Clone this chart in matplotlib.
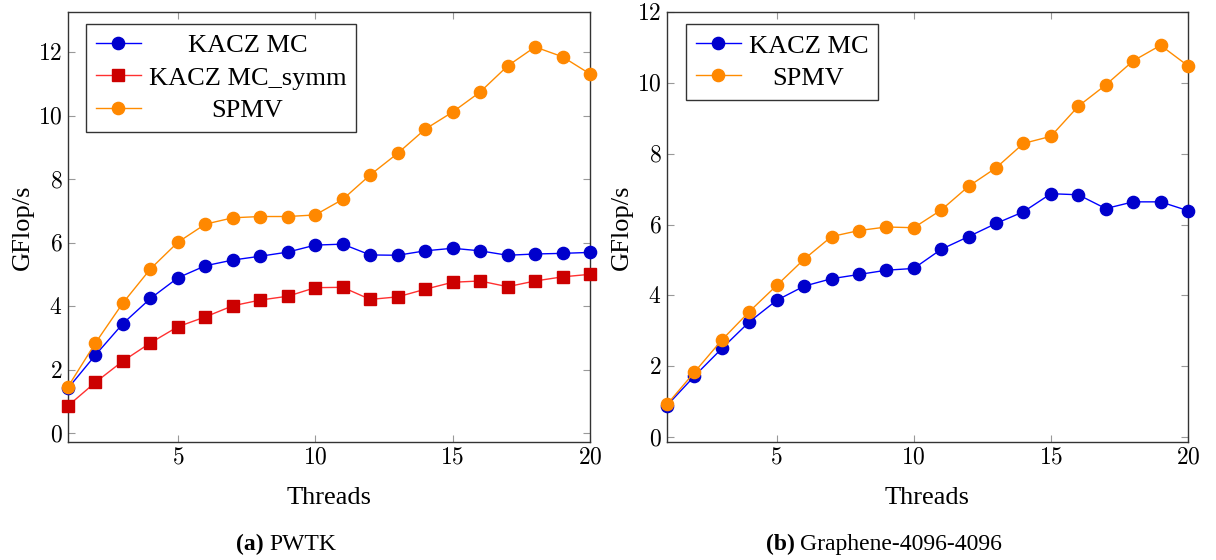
import matplotlib
matplotlib.use("Agg")
import matplotlib.pyplot as plt
from matplotlib import offsetbox

threads = list(range(1, 21))

pwtk_kacz = [1.41, 2.46, 3.45, 4.24, 4.89, 5.27, 5.45, 5.57, 5.70, 5.92,
             5.95, 5.61, 5.60, 5.74, 5.82, 5.74, 5.60, 5.64, 5.66, 5.69]
pwtk_kacz_symm = [0.86, 1.60, 2.27, 2.84, 3.35, 3.66, 4.01, 4.19, 4.31, 4.58,
                  4.59, 4.21, 4.29, 4.53, 4.75, 4.79, 4.61, 4.79, 4.92, 5.00]
pwtk_spmv = [1.46, 2.84, 4.10, 5.17, 6.01, 6.58, 6.78, 6.82, 6.82, 6.87,
             7.36, 8.13, 8.81, 9.57, 10.11, 10.74, 11.56, 12.16, 11.85, 11.31]

gr_kacz = [0.89, 1.72, 2.50, 3.25, 3.86, 4.26, 4.47, 4.59, 4.71, 4.76,
           5.30, 5.66, 6.03, 6.36, 6.87, 6.84, 6.45, 6.64, 6.64, 6.39]
gr_spmv = [0.92, 1.83, 2.74, 3.54, 4.28, 5.02, 5.66, 5.83, 5.93, 5.91,
           6.41, 7.08, 7.60, 8.29, 8.49, 9.34, 9.94, 10.62, 11.06, 10.48]

xticks = [5, 10, 15, 20]
yticks = [0, 2, 4, 6, 8, 10, 12]

plt.rcParams['mathtext.fontset'] = 'cm'
plt.rcParams['font.family'] = ['Liberation Serif', 'DejaVu Serif']

W, H = 1216, 560
fig = plt.figure(figsize=(W / 100, H / 100), dpi=100)
ax1 = fig.add_axes([68 / W, 1 - 442 / H, (590 - 68) / W, (442 - 12) / H])
ax2 = fig.add_axes([667 / W, 1 - 442 / H, (1188 - 667) / W, (442 - 12) / H])

BLUE_L, BLUE_M = '#0000FF', '#0000CC'
RED_L, RED_M = '#FF3030', '#CC0000'
OR_L, OR_M = '#FF8C00', '#FF8800'


def series(ax, y, lc, mc, marker, ms, label):
    ax.plot(threads, y, color=lc, lw=1.0, marker=marker, ms=ms,
            markerfacecolor=mc, markeredgecolor=mc, label=label,
            clip_on=False, zorder=3)


series(ax1, pwtk_kacz, BLUE_L, BLUE_M, 'o', 8.8, 'KACZ MC')
series(ax1, pwtk_kacz_symm, RED_L, RED_M, 's', 8.0, 'KACZ MC_symm')
series(ax1, pwtk_spmv, OR_L, OR_M, 'o', 8.8, 'SPMV')
series(ax2, gr_kacz, BLUE_L, BLUE_M, 'o', 8.8, 'KACZ MC')
series(ax2, gr_spmv, OR_L, OR_M, 'o', 8.8, 'SPMV')

ax1.set_ylim(-0.28, 13.26)
ax2.set_ylim(-0.14, 12.0)

for ax in (ax1, ax2):
    ax.set_xlim(1, 20)
    ax.set_xticks(xticks)
    ax.set_xticklabels([r'$%d$' % t for t in xticks])
    ax.set_yticks(yticks)
    ax.set_yticklabels([r'$%d$' % t for t in yticks])
    ax.tick_params(direction='in', top=True, right=True, length=5,
                   width=0.8, color='#999999', labelsize=17, pad=4)
    for s in ax.spines.values():
        s.set_color('#333333')
        s.set_linewidth(1.0)
    ax.set_xlabel('Threads', fontsize=19, labelpad=13)
    ax.set_ylabel('GFlop/s', fontsize=19, labelpad=3)


def make_legend(ax, loc_xy):
    leg = ax.legend(loc='upper left', bbox_to_anchor=loc_xy, fontsize=19,
                    frameon=True, fancybox=False, edgecolor='black',
                    handlelength=1.7, handletextpad=0.3, borderpad=0.38,
                    labelspacing=0.33, borderaxespad=0.0, numpoints=1)
    leg.get_frame().set_linewidth(1.0)
    leg.set_zorder(5)
    return leg


leg1 = make_legend(ax1, (18 / 522, 1 - 12 / 430))
leg2 = make_legend(ax2, (19 / 521, 1 - 12 / 430))

fig.canvas.draw()
renderer = fig.canvas.get_renderer()
for leg in (leg1, leg2):
    col = leg._legend_handle_box.get_children()[0]
    rows = col.get_children()
    tas = [r.get_children()[1] for r in rows]
    wmax = max(t.get_bbox(renderer).width for t in tas)
    for r in rows:
        t = r._children[1]
        box = offsetbox.VPacker(children=[t], width=wmax,
                                align='center', pad=0, sep=0)
        box.set_figure(fig)
        r._children[1] = box

# sub-captions: bold "(x)" followed by regular name
captions = [(286, '(a)', 'PWTK'), (884, '(b)', 'Graphene-4096-4096')]
cap_objs = []
for cx, tag, name in captions:
    t1 = fig.text(0, 0, tag, fontsize=17, fontweight='bold',
                  ha='left', va='baseline')
    t2 = fig.text(0, 0, name, fontsize=17, ha='left', va='baseline')
    cap_objs.append((cx, t1, t2))
fig.canvas.draw()
gap = 5
for cx, t1, t2 in cap_objs:
    w1 = t1.get_window_extent(renderer).width
    w2 = t2.get_window_extent(renderer).width
    x0 = cx - (w1 + gap + w2) / 2
    yb = 1 - 550 / H
    t1.set_position((x0 / W, yb))
    t2.set_position(((x0 + w1 + gap) / W, yb))

fig.savefig('out.png', dpi=100)
